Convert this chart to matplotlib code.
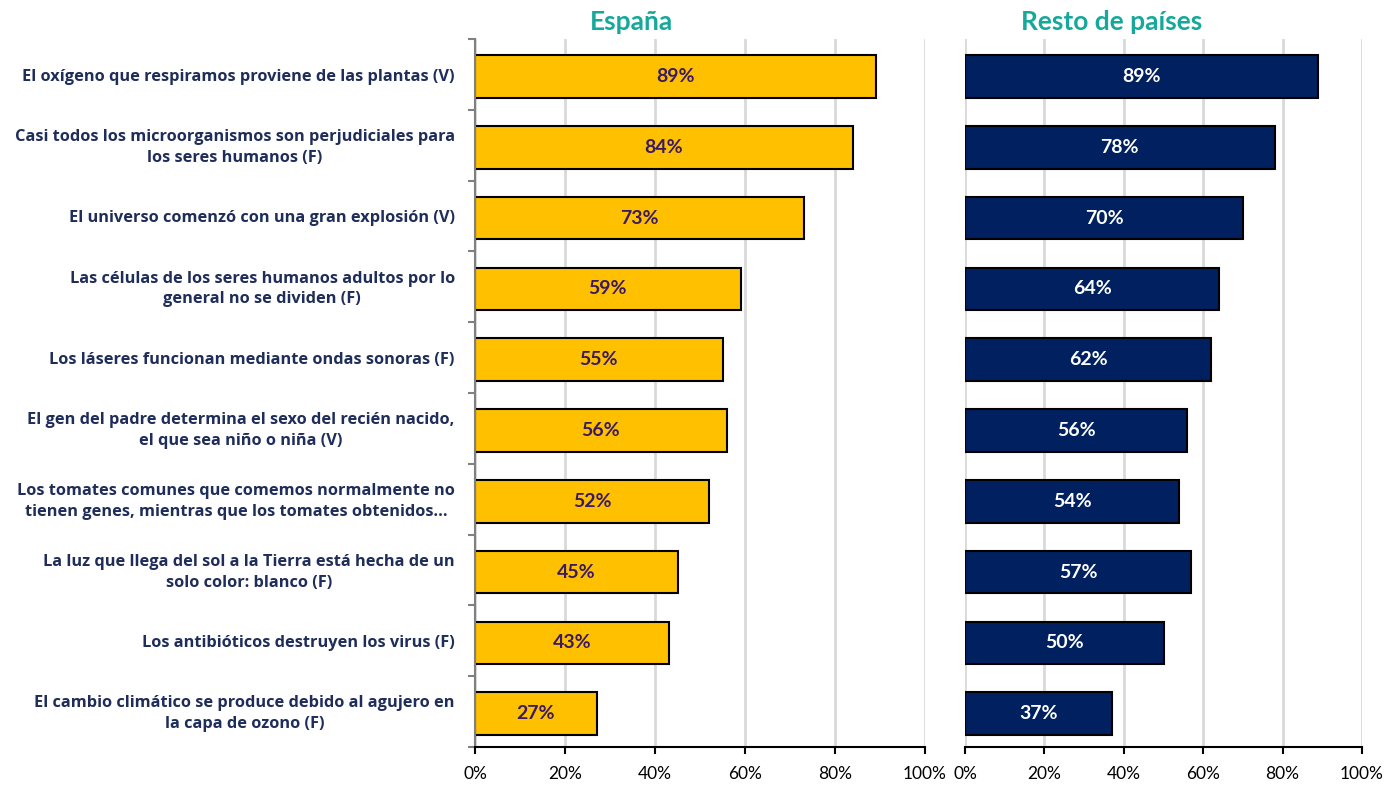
import matplotlib.pyplot as plt
import numpy as np

questions = [
    "El oxígeno que respiramos proviene de las plantas (V)",
    "Casi todos los microorganismos son perjudiciales para\nlos seres humanos (F)",
    "El universo comenzó con una gran explosión (V)",
    "Las células de los seres humanos adultos por lo\ngeneral no se dividen (F)",
    "Los láseres funcionan mediante ondas sonoras (F)",
    "El gen del padre determina el sexo del recién nacido,\nel que sea niño o niña (V)",
    "Los tomates comunes que comemos normalmente no\ntienen genes, mientras que los tomates obtenidos…",
    "La luz que llega del sol a la Tierra está hecha de un\nsolo color: blanco (F)",
    "Los antibióticos destruyen los virus (F)",
    "El cambio climático se produce debido al agujero en\nla capa de ozono (F)",
]
espana = [89, 84, 73, 59, 55, 56, 52, 45, 43, 27]
resto = [89, 78, 70, 64, 62, 56, 54, 57, 50, 37]
xticks = [0, 20, 40, 60, 80, 100]

plt.rcParams['font.family'] = ['Lato', 'DejaVu Sans']

fig = plt.figure(figsize=(13.96, 7.86), dpi=100)
ax1 = fig.add_axes([475/1396, 1-747/786, 450/1396, 708/786])
ax2 = fig.add_axes([965/1396, 1-747/786, 397/1396, 708/786])

y = np.arange(len(questions))

def style(ax):
    ax.set_xlim(0, 100)
    ax.set_ylim(len(questions) - 0.5, -0.5)
    ax.set_xticks(xticks)
    ax.set_xticklabels([f"{t}%" for t in xticks], fontsize=12.5)
    ax.grid(axis='x', color='#d9d9d9', linewidth=2)
    ax.set_axisbelow(True)
    for s in ['top', 'right']:
        ax.spines[s].set_visible(False)
    ax.spines['bottom'].set_color('black')
    ax.spines['bottom'].set_linewidth(1.5)
    ax.tick_params(axis='x', length=5, width=1.5, pad=9)

style(ax1)
style(ax2)

b1 = ax1.barh(y + 0.03, espana, height=0.6, color='#ffc000', edgecolor='black', linewidth=1.5)
b2 = ax2.barh(y + 0.03, resto, height=0.6, color='#002060', edgecolor='black', linewidth=1.5)

for rect, v in zip(b1, espana):
    ax1.text(v / 2, rect.get_y() + rect.get_height() / 2, f"{v}%", ha='center', va='center',
             fontsize=14, fontweight='bold', color='#3b1a63')
for rect, v in zip(b2, resto):
    ax2.text(v / 2, rect.get_y() + rect.get_height() / 2, f"{v}%", ha='center', va='center',
             fontsize=14, fontweight='bold', color='white')

# left axis: gray spine with tick marks between categories
ax1.spines['left'].set_color('#808080')
ax1.spines['left'].set_linewidth(1.5)
ax1.set_yticks(y)
ax1.set_yticklabels([])
ax1.tick_params(axis='y', which='major', length=0)
ax1.set_yticks(np.arange(-0.5, len(questions)), minor=True)
ax1.tick_params(axis='y', which='minor', length=5, width=1.5, color='#808080')
for yi, q in zip(y, questions):
    ax1.text(-4.5, yi + 0.03, q, ha='right', va='center', multialignment='center',
             fontsize=11.8, fontweight='bold', color='#1f2d5a', linespacing=1.4,
             family=['Open Sans', 'DejaVu Sans'])

ax2.spines['left'].set_visible(False)
ax2.set_yticks([])

fig.text(632/1396, 1-22/786, "España", ha='center', va='center', fontsize=19,
         fontweight='bold', color='#16a89a')
fig.text(1112/1396, 1-22/786, "Resto de países", ha='center', va='center', fontsize=19,
         fontweight='bold', color='#16a89a')

plt.savefig('out.png', dpi=100)
